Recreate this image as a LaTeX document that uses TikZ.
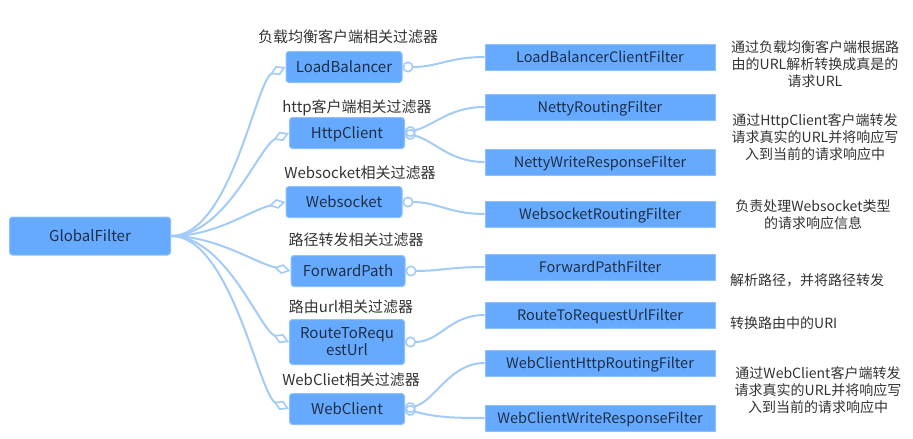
\documentclass[tikz,border=0pt]{standalone}
\usepackage{fontspec}
\setmainfont{Noto Sans CJK SC}
\usetikzlibrary{arrows.meta}
\definecolor{boxfill}{HTML}{66AAFF}
\definecolor{boxedge}{HTML}{8CC0FF}
\definecolor{boxtxt}{HTML}{1E2F45}
\definecolor{conncol}{HTML}{A3CBF7}
\definecolor{lbltxt}{HTML}{333333}
\tikzset{
  rootbox/.style={draw=boxedge, fill=boxfill, rounded corners=3pt, line width=1pt,
    minimum width=161pt, minimum height=38pt, text=boxtxt, inner sep=0pt,
    text height=12pt, text depth=2pt,
    font=\fontsize{15}{18}\selectfont},
  midbox/.style={draw=boxedge, fill=boxfill, rounded corners=3pt, line width=1pt,
    minimum width=116pt, minimum height=31pt, text=boxtxt, inner sep=0pt,
    font=\fontsize{15}{18}\selectfont, align=center},
  onel/.style={text height=12pt, text depth=2pt},
  leafbox/.style={draw=boxedge, fill=boxfill, line width=1pt,
    minimum width=230pt, minimum height=26pt, text=boxtxt, inner sep=0pt,
    text height=12pt, text depth=2pt,
    font=\fontsize{14.5}{17}\selectfont},
  grplbl/.style={text=lbltxt, inner sep=0pt, font=\fontsize{15}{18}\selectfont},
  desc/.style={text=lbltxt, inner sep=0pt, align=center, font=\fontsize{14}{17}\selectfont},
  conn/.style={draw=conncol, line width=2pt},
  dia/.style={conn, -{Diamond[open, length=17pt, width=10pt, line width=1.6pt]}},
  circ/.style={conn, {Circle[open, length=11pt, width=11pt, line width=1.6pt]}-},
}
\begin{document}
\begin{tikzpicture}[x=1pt,y=-1pt]
\useasboundingbox (0,0) rectangle (913,439);

\node[rootbox] (root) at (90,236) {GlobalFilter};

\node[midbox, onel] (lb) at (344,67) {LoadBalancer};
\node[midbox, onel, minimum width=115pt] (hc) at (347,133) {HttpClient};
\node[midbox, onel] (ws) at (344,202) {Websocket};
\node[midbox, onel, minimum width=114pt] (fp) at (348,271) {ForwardPath};
\node[midbox, minimum width=115pt, minimum height=45pt] (rt) at (347,342) {RouteToRequ\\[-1pt]estUrl};
\node[midbox, onel, minimum width=115pt] (wc) at (347,409) {WebClient};

\node[grplbl] (llb) at (348,37) {负载均衡客户端相关过滤器};
\node[grplbl] (lhc) at (357,108) {http客户端相关过滤器};
\node[grplbl] (lws) at (360,173) {Websocket相关过滤器};
\node[grplbl] (lfp) at (356,240) {路径转发相关过滤器};
\node[grplbl] (lrt) at (351,307) {路由url相关过滤器};
\node[grplbl] (lwc) at (351,380) {WebCliet相关过滤器};

\node[leafbox] (f1) at (600,57) {LoadBalancerClientFilter};
\node[leafbox] (f2) at (600,107) {NettyRoutingFilter};
\node[leafbox] (f3) at (600,162) {NettyWriteResponseFilter};
\node[leafbox] (f4) at (600,214) {WebsocketRoutingFilter};
\node[leafbox] (f5) at (600,267) {ForwardPathFilter};
\node[leafbox] (f6) at (600,315) {RouteToRequestUrlFilter};
\node[leafbox] (f7) at (600,363) {WebClientHttpRoutingFilter};
\node[leafbox] (f8) at (600,418) {WebClientWriteResponseFilter};

\node[desc] (d1) at (815,64) {通过负载均衡客户端根据路\\由的URL解析转换成真是的\\请求URL};
\node[desc] (d2) at (815,137) {通过HttpClient客户端转发\\请求真实的URL并将响应写\\入到当前的请求响应中};
\node[desc] (d3) at (813,215) {负责处理Websocket类型\\的请求响应信息};
\node[desc, anchor=west] (d4) at (730,280) {解析路径，并将路径转发};
\node[desc, anchor=west] (d5) at (730,323) {转换路由中的URI};
\node[desc] (d6) at (818,390) {通过WebClient客户端转发\\请求真实的URL并将响应写\\入到当前的请求响应中};

\draw[dia] (root.east) .. controls +(60,0) and +(-30,14) .. (lb.west);
\draw[dia] (root.east) .. controls +(55,0) and +(-30,13) .. (hc.west);
\draw[dia] (root.east) .. controls +(45,0) and +(-35,8) .. (ws.west);
\draw[dia] (root.east) .. controls +(45,0) and +(-35,-8) .. (fp.west);
\draw[dia] (root.east) .. controls +(55,0) and +(-30,-13) .. (rt.west);
\draw[dia] (root.east) .. controls +(60,0) and +(-30,-14) .. (wc.west);

\draw[circ] (lb.east) .. controls +(35,0) and +(-35,0) .. (f1.west);
\draw[circ] (hc.east) .. controls +(30,-8) and +(-35,0) .. (f2.west);
\draw[circ] (hc.east) .. controls +(30,8) and +(-35,0) .. (f3.west);
\draw[circ] (ws.east) .. controls +(35,0) and +(-35,0) .. (f4.west);
\draw[circ] (fp.east) .. controls +(35,0) and +(-35,0) .. (f5.west);
\draw[circ] (rt.east) .. controls +(35,0) and +(-35,0) .. (f6.west);
\draw[circ] (wc.east) .. controls +(30,-8) and +(-35,0) .. (f7.west);
\draw[circ] (wc.east) .. controls +(30,8) and +(-35,0) .. (f8.west);
\end{tikzpicture}
\end{document}
